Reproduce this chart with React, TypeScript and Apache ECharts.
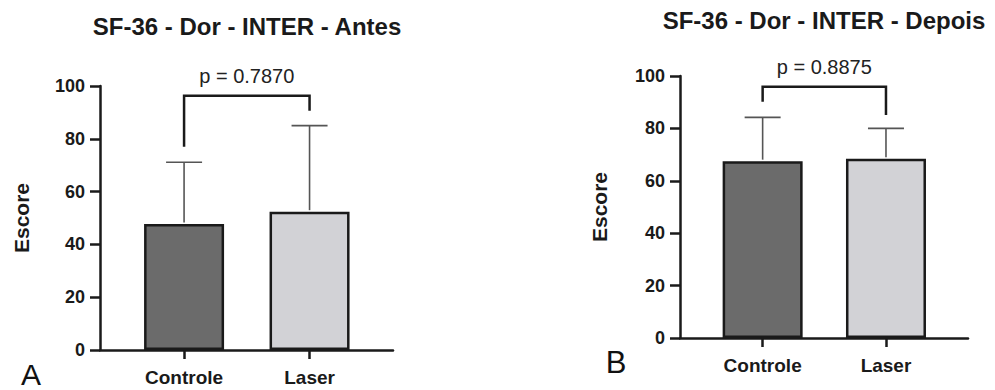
import React, { useEffect, useRef } from "react";
import * as echarts from "echarts";

const categories = ["Controle", "Laser"];
const catPos = [1, 2];

const antesMeans = [47.7, 52.4];
const antesSD = [23.4, 32.6];
const depoisMeans = [67.5, 68.4];
const depoisSD = [16.7, 11.6];

// bracket: [x1, x2, top, leftEnd, rightEnd]
const antesBracket = [1, 2, 96.3, 77, 90.6];
const depoisBracket = [1, 2, 95.9, 90.2, 85.1];
const antesP = "p = 0.7870";
const depoisP = "p = 0.8875";

const titles = ["SF-36 - Dor - INTER - Antes", "SF-36 - Dor - INTER - Depois"];
const panelLetters = ["A", "B"];
const yTicks = { min: 0, max: 100, interval: 20 };

const barColors = ["#6b6b6b", "#d2d2d6"];
const FONT = "Liberation Sans, Arial, Helvetica, sans-serif";
const INK = "#1a1a1a";

function axesFor(gridIndex: number) {
  const xAxis = {
    type: "value",
    gridIndex,
    min: 0.33,
    max: 2.665,
    splitLine: { show: false },
    axisLine: { show: true, onZero: false, lineStyle: { color: INK, width: 2.5 } },
    axisTick: {
      show: true,
      customValues: catPos,
      length: 9,
      lineStyle: { color: INK, width: 2.5 },
    },
    axisLabel: {
      customValues: catPos,
      formatter: (v: number) => categories[Math.round(v) - 1] ?? "",
      color: INK,
      fontFamily: FONT,
      fontWeight: "bold",
      fontSize: 19,
      margin: 18,
    },
  };
  const yAxis = {
    type: "value",
    gridIndex,
    min: yTicks.min,
    max: yTicks.max,
    interval: yTicks.interval,
    name: "Escore",
    nameLocation: "middle",
    nameGap: gridIndex === 0 ? 68 : 70,
    nameTextStyle: { color: INK, fontFamily: FONT, fontWeight: "bold", fontSize: 21 },
    splitLine: { show: false },
    axisLine: { show: true, onZero: false, lineStyle: { color: INK, width: 2.5 } },
    axisTick: { show: true, length: 10, lineStyle: { color: INK, width: 2.5 } },
    axisLabel: { color: INK, fontFamily: FONT, fontWeight: "bold", fontSize: 18, margin: 15 },
  };
  return { xAxis, yAxis };
}

function barSeries(idx: number, means: number[]) {
  return {
    type: "bar",
    xAxisIndex: idx,
    yAxisIndex: idx,
    barWidth: 80,
    z: 2,
    data: means.map((m, i) => ({
      value: [catPos[i], m],
      itemStyle: { color: barColors[i], borderColor: INK, borderWidth: 2.5 },
    })),
  };
}

function errorSeries(idx: number, means: number[], sds: number[]) {
  return {
    type: "custom",
    xAxisIndex: idx,
    yAxisIndex: idx,
    z: 3,
    clip: false,
    encode: { x: 0, y: [1, 2] },
    data: means.map((m, i) => [catPos[i], m, m + sds[i]]),
    renderItem: (params: any, api: any) => {
      const x = api.value(0);
      const p0 = api.coord([x, api.value(1)]);
      const p1 = api.coord([x, api.value(2)]);
      const hw = 18;
      const style = { stroke: "#555", lineWidth: 1.6, fill: "none" };
      return {
        type: "group",
        children: [
          { type: "line", shape: { x1: p0[0], y1: p0[1] - 1.5, x2: p1[0], y2: p1[1] }, style },
          { type: "line", shape: { x1: p1[0] - hw, y1: p1[1], x2: p1[0] + hw, y2: p1[1] }, style },
        ],
      };
    },
  };
}

function bracketSeries(idx: number, b: number[], label: string) {
  return {
    type: "custom",
    xAxisIndex: idx,
    yAxisIndex: idx,
    z: 4,
    clip: false,
    encode: { x: [0, 1], y: [2, 3, 4] },
    data: [b],
    renderItem: (params: any, api: any) => {
      const x1 = api.value(0);
      const x2 = api.value(1);
      const top = api.value(2);
      const a = api.coord([x1, api.value(3)]);
      const t1 = api.coord([x1, top]);
      const t2 = api.coord([x2, top]);
      const c = api.coord([x2, api.value(4)]);
      return {
        type: "group",
        children: [
          {
            type: "polyline",
            shape: { points: [a, t1, t2, c] },
            style: { stroke: INK, lineWidth: 2.5, fill: "none" },
          },
          {
            type: "text",
            x: (t1[0] + t2[0]) / 2,
            y: t1[1] - 20,
            style: {
              text: label,
              fill: "#222",
              fontFamily: FONT,
              fontSize: 20,
              align: "center",
              verticalAlign: "middle",
            },
          },
        ],
      };
    },
  };
}

export default function App() {
  const ref = useRef<HTMLDivElement>(null);
  useEffect(() => {
    if (!ref.current) return;
    const chart = echarts.init(ref.current, undefined, { renderer: "svg" });
    const a0 = axesFor(0);
    const a1 = axesFor(1);
    chart.setOption({
      animation: false,
      backgroundColor: "#ffffff",
      grid: [
        { left: 100, top: 86, width: 293, height: 264 },
        { left: 680, top: 76, width: 288, height: 262 },
      ],
      xAxis: [a0.xAxis, a1.xAxis],
      yAxis: [a0.yAxis, a1.yAxis],
      series: [
        barSeries(0, antesMeans),
        errorSeries(0, antesMeans, antesSD),
        bracketSeries(0, antesBracket, antesP),
        barSeries(1, depoisMeans),
        errorSeries(1, depoisMeans, depoisSD),
        bracketSeries(1, depoisBracket, depoisP),
      ],
      graphic: [
        {
          type: "text",
          x: 247,
          y: 26,
          style: {
            text: titles[0],
            fill: INK,
            fontFamily: FONT,
            fontWeight: "bold",
            fontSize: 24,
            align: "center",
            verticalAlign: "middle",
          },
        },
        {
          type: "text",
          x: 824,
          y: 20,
          style: {
            text: titles[1],
            fill: INK,
            fontFamily: FONT,
            fontWeight: "bold",
            fontSize: 24,
            align: "center",
            verticalAlign: "middle",
          },
        },
        {
          type: "text",
          x: 31,
          y: 374,
          style: {
            text: panelLetters[0],
            fill: "#111",
            fontFamily: FONT,
            fontSize: 30,
            align: "center",
            verticalAlign: "middle",
          },
        },
        {
          type: "text",
          x: 616,
          y: 362,
          style: {
            text: panelLetters[1],
            fill: "#111",
            fontFamily: FONT,
            fontSize: 31,
            align: "center",
            verticalAlign: "middle",
          },
        },
      ],
    });
    return () => chart.dispose();
  }, []);
  return (
    <div
      ref={ref}
      style={{ position: "fixed", left: 0, top: 0, width: 995, height: 390 }}
    />
  );
}
